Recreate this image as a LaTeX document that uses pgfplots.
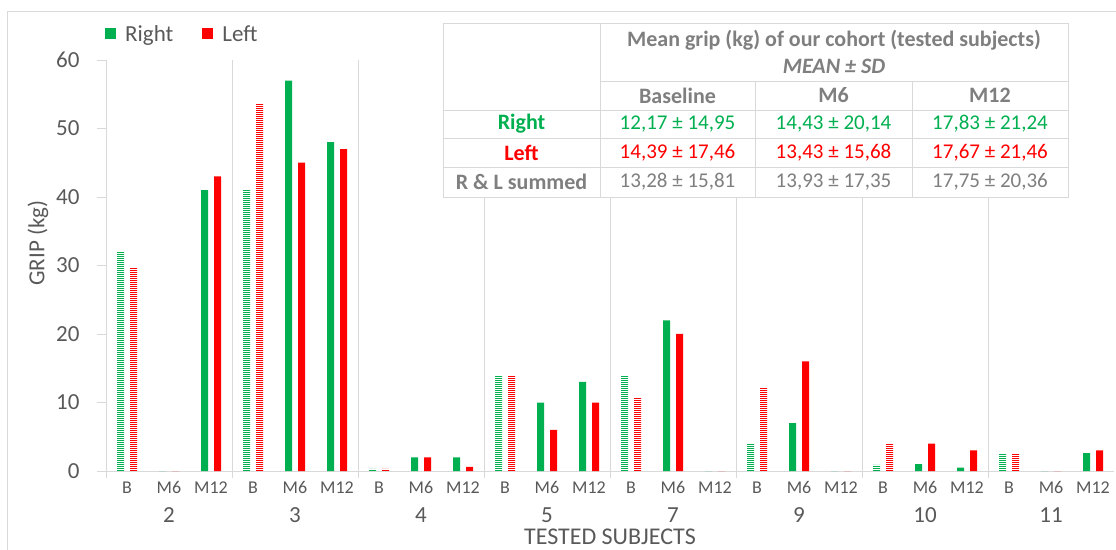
\documentclass[border=0pt]{standalone}
\usepackage{pgfplots}
\usepackage{pgfplotstable}
\pgfplotsset{compat=1.18}
\usetikzlibrary{patterns}
\usepackage{fontspec}
\setmainfont{Carlito}

\definecolor{xgreen}{HTML}{00B050}
\definecolor{xred}{HTML}{FF0000}
\definecolor{txt}{HTML}{595959}
\definecolor{tbl}{HTML}{7F7F7F}
\definecolor{gridc}{HTML}{D9D9D9}

% striped fills for the baseline bars
\pgfdeclarepatterninherentlycolored{gstripe}{\pgfpointorigin}{\pgfqpoint{8pt}{2.2pt}}{\pgfqpoint{8pt}{2.2pt}}{%
  \pgfsetfillcolor{xgreen}\pgfpathrectangle{\pgfpointorigin}{\pgfqpoint{8pt}{1.2pt}}\pgfusepath{fill}}
\pgfdeclarepatterninherentlycolored{rstripe}{\pgfpointorigin}{\pgfqpoint{8pt}{2.2pt}}{\pgfqpoint{8pt}{2.2pt}}{%
  \pgfsetfillcolor{xred}\pgfpathrectangle{\pgfpointorigin}{\pgfqpoint{8pt}{1.2pt}}\pgfusepath{fill}}

% baseline visits (striped bars)
\pgfplotstableread{
x R L
0 32 29.7
3 41 53.8
6 0.3 0.3
9 14 14
12 14 10.8
15 4 12.2
18 0.9 4
21 2.6 2.6
}\tblB

% M6 and M12 visits (solid bars)
\pgfplotstableread{
x R L
1 0 0
2 41 43
4 57 45
5 48 47
7 2 2
8 2 0.6
10 10 6
11 13 10
13 22 20
14 0 0
16 7 16
17 0 0
19 1 4
20 0.5 3
22 0 0
23 2.6 3
}\tblF

\newcommand{\fs}[1]{\fontsize{#1}{#1}\selectfont}

\begin{document}
\begin{tikzpicture}[x=1pt,y=1pt]
\path[use as bounding box] (0,0) rectangle (1116,549);
\draw[gridc] (7,-5) -- (7,538) -- (1130,538);

\begin{axis}[
  at={(106pt,78pt)}, anchor=south west,
  width=1008pt, height=411pt, scale only axis,
  xmin=-0.5, xmax=23.5, ymin=0, ymax=60,
  axis x line*=bottom, axis y line*=left,
  axis line style={draw=gridc, line width=0.8pt},
  ytick={0,10,...,60},
  xtick={0,...,23},
  xticklabels={B,M6,M12,B,M6,M12,B,M6,M12,B,M6,M12,B,M6,M12,B,M6,M12,B,M6,M12,B,M6,M12},
  minor xtick={-0.5,2.5,5.5,...,20.5},
  xminorgrids, minor grid style={draw=gridc, line width=0.8pt},
  tick align=outside,
  major x tick style={draw=none},
  minor x tick style={draw=gridc, line width=0.8pt},
  ytick style={draw=gridc, line width=0.8pt},
  major tick length=9pt, minor tick length=7pt,
  /pgf/number format/assume math mode=true,
  yticklabel style={font=\fs{23}, text=txt, anchor=east, xshift=-14pt},
  xticklabel style={font=\fs{18}, text=txt, yshift=2pt},
  legend style={at={(axis description cs:0,1)}, anchor=west,
    yshift=26pt, xshift=-1pt, draw=none, fill=none, legend columns=2,
    font=\fs{23}, text=txt, inner xsep=0pt,
    /tikz/every odd column/.append style={column sep=7pt},
    /tikz/every even column/.append style={column sep=27pt}},
  legend image code/.code={\fill[#1] (0pt,-5.5pt) rectangle (11pt,5.5pt);},
  clip=false,
]
\addplot[ybar, bar width=7pt, bar shift=-6.5pt, draw=none, fill=xgreen] table[x=x, y=R] {\tblF};
\addlegendentry{Right}
\addplot[ybar, bar width=7pt, bar shift=6.5pt, draw=none, fill=xred] table[x=x, y=L] {\tblF};
\addlegendentry{Left}
\addplot[ybar, bar width=7pt, bar shift=-6.5pt, draw=none, forget plot,
  pattern=gstripe] table[x=x, y=R] {\tblB};
\addplot[ybar, bar width=7pt, bar shift=6.5pt, draw=none, forget plot,
  pattern=rstripe] table[x=x, y=L] {\tblB};

% subject numbers under each group
\foreach \g/\lab in {1/2,4/3,7/4,10/5,13/7,16/9,19/10,22/11}{
  \edef\tmp{\noexpand\node[font=\noexpand\fs{23}, text=txt] at (axis cs:\g,0) [yshift=-44pt] {\lab};}
  \tmp
}
\end{axis}

% axis titles
\node[rotate=90, font=\fs{23}, text=txt] at (38,306) {GRIP (kg)};
\node[font=\fs{24}, text=txt] at (610,12) {TESTED SUBJECTS};

% summary table
\fill[white] (443,352) rectangle (1068,526);
\begin{scope}[draw=gridc, line width=0.9pt]
  \draw (443,352) rectangle (1068,526);
  \draw (600,468) -- (1068,468);
  \draw (443,439) -- (1068,439);
  \draw (443,411) -- (1068,411);
  \draw (443,382) -- (1068,382);
  \draw (600,352) -- (600,526);
  \draw (755,352) -- (755,468);
  \draw (912,352) -- (912,468);
\end{scope}
\begin{scope}[every node/.style={font=\fs{21}}]
  \node[text=tbl, font=\bfseries\fs{22}] at (834,509) {Mean grip (kg) of our cohort (tested subjects)};
  \node[text=tbl, font=\bfseries\itshape\fs{22}] at (834,483) {MEAN ± SD};
  \node[text=tbl, font=\bfseries\fs{22}] at (677.5,453.5) {Baseline};
  \node[text=tbl, font=\bfseries\fs{22}] at (833.5,453.5) {M6};
  \node[text=tbl, font=\bfseries\fs{22}] at (990,453.5) {M12};
  \node[text=xgreen, font=\bfseries\fs{22}] at (521.5,425) {Right};
  \node[text=xred, font=\bfseries\fs{22}] at (521.5,396.5) {Left};
  \node[text=tbl, font=\bfseries\fs{22}] at (521.5,367) {R \& L summed};
  \node[text=xgreen] at (677.5,425) {12,17 ± 14,95};
  \node[text=xgreen] at (833.5,425) {14,43 ± 20,14};
  \node[text=xgreen] at (990,425) {17,83 ± 21,24};
  \node[text=xred] at (677.5,396.5) {14,39 ± 17,46};
  \node[text=xred] at (833.5,396.5) {13,43 ± 15,68};
  \node[text=xred] at (990,396.5) {17,67 ± 21,46};
  \node[text=tbl] at (677.5,367) {13,28 ± 15,81};
  \node[text=tbl] at (833.5,367) {13,93 ± 17,35};
  \node[text=tbl] at (990,367) {17,75 ± 20,36};
\end{scope}
\end{tikzpicture}
\end{document}
